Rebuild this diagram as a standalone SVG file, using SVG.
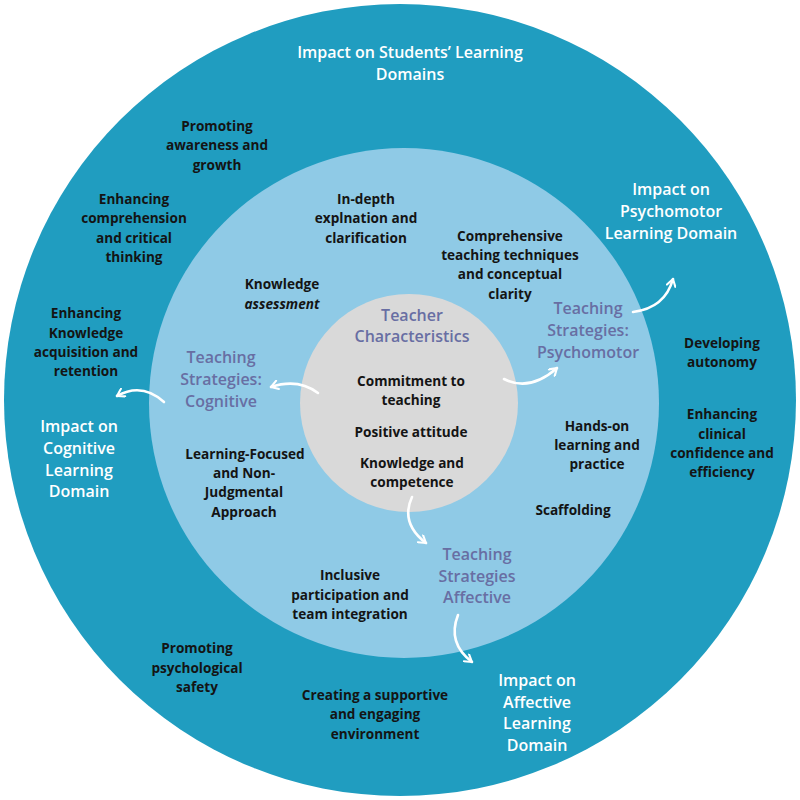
<svg xmlns="http://www.w3.org/2000/svg" width="800" height="800" viewBox="0 0 800 800">
<defs>
<style>
text{font-family:"Open Sans","Noto Sans","DejaVu Sans",sans-serif;text-anchor:middle}
.b{font-size:13.6px;font-weight:700;fill:#141414}
.w{font-size:16px;font-weight:600;fill:#ffffff}
.p{font-size:16px;font-weight:600;fill:#686ea3}
.i{font-style:italic}
.arr{fill:none;stroke:#ffffff;stroke-width:2.6;stroke-linecap:round;stroke-linejoin:round}
</style>
<marker id="ah" viewBox="0 0 12 12" refX="10" refY="6" markerWidth="4" markerHeight="4" orient="auto" markerUnits="strokeWidth">
<path d="M2,1 L10,6 L2,11" fill="none" stroke="#ffffff" stroke-width="2.4" stroke-linecap="round" stroke-linejoin="round"/>
</marker>
</defs>
<rect width="800" height="800" fill="#ffffff"/>
<g id="outer-ring">
<circle cx="400" cy="400" r="396" fill="#209dc0"/>
</g>
<g id="middle-ring">
<circle cx="404" cy="403" r="255" fill="#8fcae6"/>
</g>
<g id="core">
<circle cx="409" cy="403" r="109" fill="#d9d9d9"/>
</g>
<g id="connectors">
<path class="arr" marker-end="url(#ah)" d="M318,393 Q298,378 271,387"/>
<path class="arr" marker-end="url(#ah)" d="M164,402 Q142,382 117,396"/>
<path class="arr" marker-end="url(#ah)" d="M504,379 Q530,392 557,368"/>
<path class="arr" marker-end="url(#ah)" d="M633,312 Q665,308 673,279"/>
<path class="arr" marker-end="url(#ah)" d="M412,497 Q400,523 426,543"/>
<path class="arr" marker-end="url(#ah)" d="M458,615 Q447,643 472,662"/>
</g>
<g id="title">
<text class="w" x="410" y="58">Impact on Students’ Learning</text>
<text class="w" x="410" y="80">Domains</text>
</g>
<g id="impact-psychomotor">
<text class="w" x="671" y="195">Impact on</text>
<text class="w" x="671" y="217">Psychomotor</text>
<text class="w" x="671" y="239">Learning Domain</text>
</g>
<g id="impact-cognitive">
<text class="w" x="79" y="432">Impact on</text>
<text class="w" x="79" y="454">Cognitive</text>
<text class="w" x="79" y="476">Learning</text>
<text class="w" x="79" y="497">Domain</text>
</g>
<g id="impact-affective">
<text class="w" x="537" y="686">Impact on</text>
<text class="w" x="537" y="708">Affective</text>
<text class="w" x="537" y="729">Learning</text>
<text class="w" x="537" y="751">Domain</text>
</g>
<g id="promoting-awareness">
<text class="b" x="217" y="131">Promoting</text>
<text class="b" x="217" y="150">awareness and</text>
<text class="b" x="217" y="170">growth</text>
</g>
<g id="enhancing-comprehension">
<text class="b" x="134" y="204">Enhancing</text>
<text class="b" x="134" y="223">comprehension</text>
<text class="b" x="134" y="243">and critical</text>
<text class="b" x="134" y="262">thinking</text>
</g>
<g id="enhancing-knowledge">
<text class="b" x="86" y="318">Enhancing</text>
<text class="b" x="86" y="338">Knowledge</text>
<text class="b" x="86" y="357">acquisition and</text>
<text class="b" x="86" y="376">retention</text>
</g>
<g id="developing-autonomy">
<text class="b" x="722" y="348">Developing</text>
<text class="b" x="722" y="367">autonomy</text>
</g>
<g id="enhancing-clinical">
<text class="b" x="722" y="419">Enhancing</text>
<text class="b" x="722" y="439">clinical</text>
<text class="b" x="722" y="458">confidence and</text>
<text class="b" x="722" y="477">efficiency</text>
</g>
<g id="promoting-safety">
<text class="b" x="197" y="653">Promoting</text>
<text class="b" x="197" y="673">psychological</text>
<text class="b" x="197" y="692">safety</text>
</g>
<g id="supportive-environment">
<text class="b" x="375" y="700">Creating a supportive</text>
<text class="b" x="375" y="719">and engaging</text>
<text class="b" x="375" y="739">environment</text>
</g>
<g id="in-depth">
<text class="b" x="366" y="204">In-depth</text>
<text class="b" x="366" y="223">explnation and</text>
<text class="b" x="366" y="243">clarification</text>
</g>
<g id="comprehensive">
<text class="b" x="510" y="241">Comprehensive</text>
<text class="b" x="510" y="260">teaching techniques</text>
<text class="b" x="510" y="279">and conceptual</text>
<text class="b" x="510" y="299">clarity</text>
</g>
<g id="knowledge-assessment">
<text class="b" x="282" y="289">Knowledge</text>
<text class="b i" x="282" y="309">assessment</text>
</g>
<g id="ts-cognitive">
<text class="p" x="221" y="363">Teaching</text>
<text class="p" x="221" y="385">Strategies:</text>
<text class="p" x="221" y="407">Cognitive</text>
</g>
<g id="ts-psychomotor">
<text class="p" x="588" y="314">Teaching</text>
<text class="p" x="588" y="336">Strategies:</text>
<text class="p" x="588" y="358">Psychomotor</text>
</g>
<g id="ts-affective">
<text class="p" x="477" y="560">Teaching</text>
<text class="p" x="477" y="582">Strategies</text>
<text class="p" x="477" y="603">Affective</text>
</g>
<g id="learning-focused">
<text class="b" x="245" y="459">Learning-Focused</text>
<text class="b" x="244" y="478">and Non-</text>
<text class="b" x="244" y="497">Judgmental</text>
<text class="b" x="244" y="517">Approach</text>
</g>
<g id="hands-on">
<text class="b" x="597" y="431">Hands-on</text>
<text class="b" x="597" y="450">learning and</text>
<text class="b" x="597" y="469">practice</text>
</g>
<g id="scaffolding">
<text class="b" x="573" y="515">Scaffolding</text>
</g>
<g id="inclusive">
<text class="b" x="350" y="580">Inclusive</text>
<text class="b" x="350" y="600">participation and</text>
<text class="b" x="350" y="619">team integration</text>
</g>
<g id="teacher-characteristics">
<text class="p" x="412" y="321">Teacher</text>
<text class="p" x="412" y="342">Characteristics</text>
<text class="b" x="411" y="386">Commitment to</text>
<text class="b" x="411" y="405">teaching</text>
<text class="b" x="411" y="437">Positive attitude</text>
<text class="b" x="412" y="468">Knowledge and</text>
<text class="b" x="412" y="487">competence</text>
</g>
</svg>
